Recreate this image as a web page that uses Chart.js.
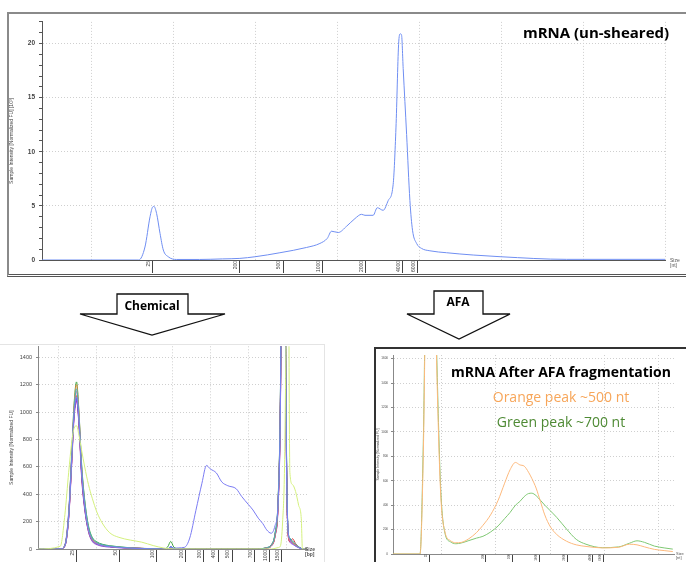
<!DOCTYPE html>
<html><head><meta charset="utf-8">
<script src="https://cdn.jsdelivr.net/npm/chart.js@4.4.1/dist/chart.umd.min.js"></script>
<style>
html,body{margin:0;padding:0;background:#fff;width:686px;height:562px;overflow:hidden;position:relative;font-family:'Liberation Sans',Arial,sans-serif;}
canvas{position:absolute;}
.box{position:absolute;box-sizing:border-box;}
#topBox{left:7px;top:12px;width:700px;height:265px;border:2px solid #8a8a8a;border-bottom:3px double #555;}
#chemBox{left:-2px;top:344px;width:327px;height:230px;border-top:1px solid #e4e4e4;border-right:1px solid #e4e4e4;}
#afaBox{left:374px;top:347px;width:330px;height:230px;border-left:2px solid #333;border-top:2px solid #333;}
.t{position:absolute;transform:translate(-50%,-50%);white-space:nowrap;line-height:1;font-family:'Open Sans','Noto Sans',sans-serif;}
.size{position:absolute;font-family:'Liberation Sans',Arial,sans-serif;font-size:5px;line-height:5px;color:#555;white-space:nowrap;}
svg{position:absolute;left:0;top:0;}
</style>
</head><body>
<div class="box" id="topBox"></div>
<div class="box" id="chemBox"></div>
<div class="box" id="afaBox"></div>
<canvas id="cTop" width="677" height="259" style="left:9px;top:14px;"></canvas>
<canvas id="cChem" width="323" height="223" style="left:0px;top:339px;"></canvas>
<canvas id="cAfa" width="310" height="213" style="left:376px;top:349px;"></canvas>

<svg width="686" height="562">
  <polygon points="117,294 188,294 188,314 225,314 152,335 80,314 117,314" fill="#fff" stroke="#111" stroke-width="1.3"/>
  <polygon points="434,291 483,291 483,314 510,314 459,339 407,314 434,314" fill="#fff" stroke="#111" stroke-width="1.3"/>
</svg>
<div class="t" style="left:152px;top:306px;font-size:12px;font-weight:700;">Chemical</div>
<div class="t" style="left:458px;top:302px;font-size:12px;font-weight:700;">AFA</div>

<div class="t" style="left:596px;top:32px;font-size:15px;font-weight:700;">mRNA (un-sheared)</div>
<div class="t" style="left:561px;top:372px;font-size:14px;font-weight:700;">mRNA After AFA fragmentation</div>
<div class="t" style="left:561px;top:397px;font-size:14px;color:#f7a65a;">Orange peak ~500 nt</div>
<div class="t" style="left:561px;top:422px;font-size:14px;color:#4e8a34;">Green peak ~700 nt</div>

<div class="size" style="left:670px;top:258px;">Size<br>[nt]</div>
<div class="size" style="left:305px;top:547px;font-weight:bold;">Size<br>[bp]</div>
<div class="size" style="left:676px;top:552px;font-size:4px;line-height:4px;">Size<br>[nt]</div>

<script>
// ---------- Top chart: mRNA (un-sheared) ----------
const topTime = [17.0, 22.9, 23.28, 23.59, 23.75, 23.83, 23.99, 24.2, 24.4, 24.7, 25.2, 26.6, 28.0, 29.07, 29.99, 31.51, 33.14, 33.95, 34.4, 34.66, 35.07, 35.58, 36.09, 36.49, 36.7, 37.2, 37.45, 37.81, 38.12, 38.42, 38.59, 38.75, 38.85, 38.93, 39.03, 39.24, 39.44, 39.6, 39.85, 40.15, 40.66, 41.68, 43.3, 45.0, 49.0, 55.0];
const topIntensity = [0, 0, 1.2, 4.0, 4.9, 4.95, 4.3, 2.45, 0.92, 0.3, 0.05, 0.05, 0.1, 0.15, 0.3, 0.67, 1.16, 1.53, 2.0, 2.66, 2.54, 3.12, 3.83, 4.22, 4.13, 4.13, 4.83, 4.59, 5.5, 7.0, 12.2, 19.9, 20.9, 20.8, 17.7, 11.6, 5.5, 2.75, 1.53, 1.07, 0.85, 0.67, 0.46, 0.3, 0.06, 0.06];
const topLadderTime = [23.77, 29.07, 31.7, 34.13, 36.76, 39.01, 39.93];
const topLadderLabels = ['25', '200', '500', '1000', '2000', '4000', '6000'];
const topGridTime = [20, 25, 30, 35, 40, 45, 50, 55];
const topYLabels = [0, 5, 10, 15, 20];

// ---------- Chemical fragmentation chart ----------
const chemTime = [17.4, 20.3, 20.9, 21.4, 21.8, 22.1, 22.43, 22.75, 23.1, 23.5, 24.0, 24.5, 25.1, 25.8, 26.8, 28.0, 29.5, 31.0, 32.5, 33.8, 34.4, 34.8, 35.2, 35.8, 36.6, 37.3, 38.1, 38.9, 39.5, 40.0, 40.8, 41.5, 42.3, 43.4, 44.1, 45.0, 45.6, 46.3, 46.9, 47.4, 48.0, 48.5, 48.9, 49.2, 49.5, 49.75, 50.0, 50.2, 50.45, 50.8, 51.2, 51.6, 51.95, 52.1, 52.7];
const chemRed       = [0,0,25,240,650,980,1120,930,540,300, 130,62,38,25,18,12,7,4,2,0, 0,8,2,0,0,0,0,0,0,0, 0,0,0,0,0,0,0,0,3,8, 25,100,330,1050,3100,2500,650,120,55,75,40,15,4,0,0];
const chemMagenta   = [0,0,20,220,620,950,1080,920,560,320, 150,70,40,26,18,12,7,4,2,0, 0,5,1,0,0,0,0,0,0,0, 0,0,0,0,0,0,0,0,2,6, 20,90,300,980,3000,2600,700,130,60,40,28,12,3,0,0];
const chemPurple    = [0,0,30,270,680,990,1090,900,520,290, 125,55,32,20,14,9,5,3,1,0, 0,6,2,0,0,0,0,0,0,0, 0,0,0,0,0,0,0,0,2,7, 22,95,320,1020,3050,2550,680,125,50,35,22,10,3,0,0];
const chemBlue      = [0,0,22,230,640,970,1100,940,560,310, 140,65,40,26,18,12,7,4,2,0, 0,18,5,0,0,0,0,0,0,0, 0,0,0,0,0,0,0,0,3,9, 28,105,340,1080,3150,2600,720,140,70,45,30,14,4,0,0];
const chemGreen     = [0,0,28,260,700,1050,1220,1000,620,360, 170,85,52,35,24,16,9,5,2,0, 15,55,15,2,0,0,0,0,0,0, 0,0,0,0,0,0,0,0,4,10, 30,115,360,1100,3200,2700,760,150,75,50,32,15,5,0,0];
const chemTeal      = [0,0,26,250,680,1010,1170,970,600,350, 160,80,48,32,22,15,8,4,2,0, 0,10,3,0,0,0,0,0,0,0, 0,0,0,0,0,0,0,0,3,9, 26,108,345,1070,3100,2650,740,145,80,60,35,16,5,0,0];
const chemOrange    = [0,0,24,245,670,1030,1200,990,600,340, 150,72,44,28,20,13,7,4,2,0, 0,7,2,0,0,0,0,0,0,0, 0,0,0,0,0,0,0,0,3,8, 24,100,330,1040,3050,2550,700,135,65,45,30,14,4,0,0];
const chemPink      = [0,0,22,235,650,990,1150,960,580,330, 145,68,42,27,19,12,7,4,2,0, 0,6,2,0,0,0,0,0,0,0, 0,0,0,0,0,0,0,0,3,8, 24,98,325,1030,3000,2500,690,130,62,42,28,13,4,0,0];
const chemFragment  = [0,0,24,240,650,975,1110,940,560,310, 135,62,38,24,17,11,6,3,1,0, 0,14,5,8,12,80,280,480,610,585, 555,490,462,440,385,325,285,225,185,140, 115,170,330,1000,3000,2500,650,150,70,40,20,10,2,0,0];
const chemYellow    = [0,20,250,560,780,880,900,830,720,600, 470,370,270,190,118,85,65,50,25,8, 3,1,0,0,0,0,0,0,0,0, 0,0,0,0,0,0,0,0,0,0, 0,5,10,20,200,600,1800,2600,560,470,420,320,220,0,0];
const chemLadderTime = [22.48, 28.09, 32.92, 36.71, 39.06, 41.02, 42.85, 45.85, 47.81, 49.37];
const chemLadderLabels = ['25', '50', '100', '200', '300', '400', '500', '700', '1000', '1500'];
const chemGridTime = [20, 25, 30, 35, 40, 45, 50];
const chemYTicks = [0, 200, 400, 600, 800, 1000, 1200, 1400];

// ---------- AFA fragmentation chart ----------
const afaTime = [15.51, 18.0, 18.3, 18.6, 19.2, 19.55, 19.9, 20.3, 20.8, 21.3, 21.8, 22.5, 23.2, 23.8, 24.5, 25.2, 25.8, 26.3, 26.8, 27.2, 27.6, 28.0, 28.3, 28.7, 29.1, 29.5, 30.0, 30.6, 31.5, 32.4, 33.3, 34.8, 36.3, 37.3, 38.0, 38.7, 39.6, 40.5, 41.3];
const afaOrange = [0,0,800,2500,3000,1500,500,180,110,92,95,125,175,235,320,440,580,690,750,730,720,670,620,540,430,320,225,160,105,75,62,50,55,80,75,58,38,28,20];
const afaGreen  = [0,0,900,2600,3000,1600,550,170,100,84,90,110,130,145,180,230,290,340,400,430,470,495,498,478,440,400,355,300,205,120,80,52,58,88,108,95,65,50,40];
const afaLadderTime = [18.86, 24.08, 26.54, 28.97, 31.55, 33.92, 34.87];
const afaLadderLabels = ['25', '200', '500', '1000', '2000', '4000', '6000'];
const afaGridTime = [20, 25, 30, 35, 40];
const afaYTicks = [0, 200, 400, 600, 800, 1000, 1200, 1400, 1600];

Chart.defaults.font.family = "'Liberation Sans', Arial, sans-serif";

function series(times, values, color, width) {
  return { data: times.map((t, i) => ({ x: t, y: values[i] })), borderColor: color, borderWidth: width || 1,
           pointRadius: 0, fill: false, cubicInterpolationMode: 'monotone' };
}

function makeChart(id, o) {
  return new Chart(document.getElementById(id), {
    type: 'line',
    data: { datasets: o.datasets },
    options: {
      responsive: false, devicePixelRatio: 1, animation: false,
      layout: { padding: o.padding },
      plugins: { legend: { display: false }, tooltip: { enabled: false } },
      scales: {
        x: { type: 'linear', min: o.xMin, max: o.xMax, weight: 0,
             afterBuildTicks: s => { s.ticks = o.xGrid.map(v => ({ value: v })); },
             ticks: { display: false },
             grid: { color: '#cfcfcf', drawTicks: false },
             border: { display: false, dash: [1, 2] },
             afterFit: s => { s.height = 0; } },
        xl: { type: 'linear', position: 'bottom', min: o.xMin, max: o.xMax, weight: 1,
             afterBuildTicks: s => { s.ticks = o.ladderT.map(v => ({ value: v })); },
             ticks: { autoSkip: false, minRotation: 90, maxRotation: 90, labelOffset: o.ladderOffset,
                      padding: o.ladderPad, color: '#444', font: { size: o.ladderFont },
                      callback: (v, i) => o.ladderLabels[i] },
             grid: { drawOnChartArea: false, tickLength: o.xHeight, tickColor: '#444', tickWidth: 1 },
             border: { display: true, color: o.axisColor },
             afterFit: s => { s.height = o.xHeight; } },
        y: { type: 'linear', min: o.yMin, max: o.yMax,
             afterBuildTicks: s => { s.ticks = o.yTicks.map(v => ({ value: v })); },
             ticks: { color: '#444', font: { size: o.yFont, weight: o.yWeight }, padding: o.yPad,
                      callback: v => (o.yLabels.includes(v) ? String(v) : '') },
             grid: { color: c => (c.tick && c.tick.value > 0 && o.yLabels.includes(c.tick.value)) ? '#cfcfcf' : 'rgba(0,0,0,0)',
                     tickColor: o.axisColor, tickLength: o.yTickLen },
             border: { display: true, color: o.axisColor, dash: [1, 2] },
             title: { display: true, text: o.yTitle, color: '#444', font: { size: o.yTitleFont },
                      padding: { top: o.yTitlePad, bottom: 0 } },
             afterFit: s => { s.width = o.yWidth; } }
      }
    }
  });
}

const topMinor = [];
for (let v = 0; v <= 22; v++) topMinor.push(v);

makeChart('cTop', {
  datasets: [series(topTime, topIntensity, '#6f8ef2', 1)],
  padding: { top: 6, right: 21, left: 0, bottom: 0 },
  xMin: 17.0, xMax: 55.0, xGrid: topGridTime,
  ladderT: topLadderTime, ladderLabels: topLadderLabels, ladderOffset: -4, ladderPad: -12, ladderFont: 5, xHeight: 13,
  axisColor: '#555',
  yMin: 0, yMax: 22, yTicks: topMinor, yLabels: topYLabels, yFont: 6.5, yWeight: 'bold', yPad: 4, yTickLen: 3,
  yTitle: 'Sample Intensity [Normalized FU] [10³]', yTitleFont: 5, yTitlePad: 0, yWidth: 33
});

makeChart('cChem', {
  datasets: [
    series(chemTime, chemYellow, '#d4f07e', 1),
    series(chemTime, chemFragment, '#7b7cf3', 1),
    series(chemTime, chemTeal, '#3fb4bb', 1),
    series(chemTime, chemOrange, '#f08c45', 1),
    series(chemTime, chemPink, '#ea6ba3', 1),
    series(chemTime, chemBlue, '#3550dc', 1),
    series(chemTime, chemRed, '#e23b3b', 1),
    series(chemTime, chemPurple, '#8a40d0', 1),
    series(chemTime, chemMagenta, '#c2208f', 1),
    series(chemTime, chemGreen, '#3ea43e', 1)
  ],
  padding: { top: 0, right: 16, left: 0, bottom: 0 },
  xMin: 17.37, xMax: 52.7, xGrid: chemGridTime,
  ladderT: chemLadderTime, ladderLabels: chemLadderLabels, ladderOffset: -4, ladderPad: -12, ladderFont: 5, xHeight: 13,
  axisColor: '#888',
  yMin: 0, yMax: 1480, yTicks: chemYTicks, yLabels: chemYTicks, yFont: 5.5, yWeight: 'normal', yPad: 4, yTickLen: 2,
  yTitle: 'Sample Intensity [Normalized FU]', yTitleFont: 5, yTitlePad: 9, yWidth: 38
});

makeChart('cAfa', {
  datasets: [
    series(afaTime, afaOrange, '#fdb97c', 1),
    series(afaTime, afaGreen, '#7fc873', 1)
  ],
  padding: { top: 6, right: 12, left: 0, bottom: 0 },
  xMin: 15.51, xMax: 41.41, xGrid: afaGridTime,
  ladderT: afaLadderTime, ladderLabels: afaLadderLabels, ladderOffset: -3, ladderPad: -8, ladderFont: 3, xHeight: 8,
  axisColor: '#888',
  yMin: 0, yMax: 1630, yTicks: afaYTicks, yLabels: afaYTicks, yFont: 3, yWeight: 'normal', yPad: 3, yTickLen: 2,
  yTitle: 'Sample Intensity [Normalized FU]', yTitleFont: 3.5, yTitlePad: 0, yWidth: 17
});
</script>
</body></html>
